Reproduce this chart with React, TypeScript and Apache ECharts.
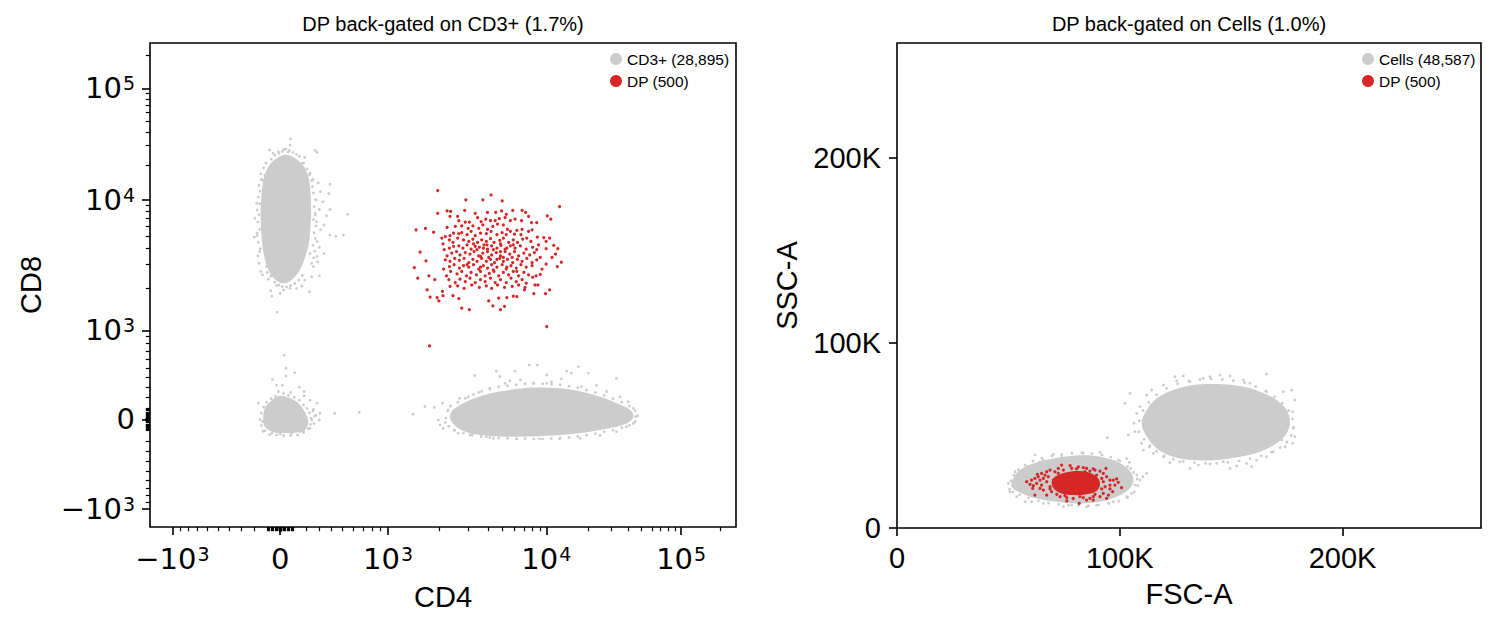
import React, { useEffect, useRef } from "react";
import * as echarts from "echarts";

const FONT = "Liberation Sans, Arial, Helvetica, sans-serif";
const MATH_FONT = "DejaVu Sans, Verdana, sans-serif";
const GRAY = "#cccccc";
const RED = "#d62728";

const leftTitle = "DP back-gated on CD3+ (1.7%)";
const rightTitle = "DP back-gated on Cells (1.0%)";
const leftParentName = "CD3+ (28,895)";
const rightParentName = "Cells (48,587)";
const dpName = "DP (500)";

// logicle axes (T=262144, W=1, M=4.5, A=0), ticks in raw units
const logicleMajorTicks = [-1000, 0, 1000, 10000, 100000];
const logicleTickBase = ["−10", "0", "10", "10", "10"];
const logicleTickExp = ["3", "", "3", "4", "5"];

// left panel events, logicle channel units (0..1000) [CD4, CD8]
const cd8PosCore = [
  [216, 762], [233, 769], [250, 760], [263, 744], [271, 720], [274, 689], [275, 655], [274, 621],
  [271, 586], [265, 559], [257, 534], [245, 514], [229, 503], [213, 512], [202, 531], [195, 559],
  [191, 593], [189, 627], [189, 662], [191, 696], [195, 724], [204, 748],
];
const cd8PosDots = [
  [240, 802], [239, 789], [228, 780], [219, 775], [204, 779], [210, 772], [236, 775], [282, 778],
  [285, 774], [264, 764], [259, 751], [196, 727], [192, 717], [262, 741], [273, 731], [278, 718],
  [287, 711], [307, 708], [291, 693], [305, 689], [283, 676], [295, 672], [307, 656], [289, 656],
  [282, 645], [301, 643], [337, 646], [182, 669], [179, 638], [183, 607], [178, 599], [284, 631],
  [291, 614], [297, 624], [307, 603], [317, 601], [330, 603], [285, 590], [289, 578], [297, 565],
  [273, 565], [285, 559], [286, 548], [189, 528], [192, 521], [202, 512], [289, 519], [272, 486],
  [259, 498], [250, 493], [239, 493], [228, 490], [222, 483], [206, 488], [208, 477], [216, 499],
  [217, 444], [199, 538], [187, 569], [279, 538], [276, 517], [264, 510],
  [186, 545], [184, 560], [188, 575], [185, 588], [183, 602], [187, 615], [184, 630], [186, 645],
  [183, 655], [187, 668], [185, 682], [188, 694], [186, 706], [190, 718], [189, 730], [194, 742],
  [198, 752], [276, 545], [279, 556], [281, 570], [278, 582], [282, 596], [280, 608], [283, 622],
  [279, 635], [282, 648], [280, 662], [283, 676], [279, 690], [277, 703], [276, 716], [272, 728],
  [268, 740], [262, 752], [207, 760], [213, 768], [220, 772], [226, 776], [232, 781], [238, 778],
  [244, 774], [250, 770], [255, 766], [213, 506], [220, 500], [226, 497], [233, 496], [240, 499],
  [247, 503], [254, 510], [260, 520], [206, 518], [200, 526],
];
const dnCore = [
  [205, 259], [222, 271], [239, 266], [253, 256], [262, 242], [268, 228], [270, 214], [264, 200],
  [250, 195], [227, 194], [208, 197], [196, 207], [193, 225], [196, 245],
];
const dnDots = [
  [229, 355], [232, 328], [209, 305], [232, 312], [247, 319], [216, 293], [226, 293], [255, 289],
  [263, 280], [263, 271], [219, 280], [240, 278], [273, 262], [285, 256], [185, 256], [279, 243],
  [290, 235], [283, 231], [315, 235], [357, 237], [276, 221], [289, 221], [280, 214], [256, 197],
  [262, 198], [193, 198], [208, 194], [222, 192], [242, 194], [192, 218], [273, 204],
  [190, 210], [188, 222], [190, 235], [194, 248], [199, 258], [207, 265], [214, 270], [228, 276],
  [236, 272], [246, 268], [255, 262], [262, 252], [268, 245], [272, 236], [275, 225], [274, 212],
  [270, 203], [262, 195], [252, 190], [240, 189], [228, 189], [216, 190], [204, 191], [196, 199],
  [281, 229], [278, 240],
];
const cd4PosCore = [
  [517, 242], [540, 259], [574, 274], [614, 283], [654, 288], [694, 287], [734, 280], [768, 269],
  [796, 256], [819, 242], [825, 228], [813, 214], [779, 203], [734, 194], [688, 189], [643, 187],
  [597, 187], [557, 191], [532, 200], [517, 214], [512, 228],
];
const cd4PosDots = [
  [449, 233], [469, 249], [485, 247], [499, 256], [509, 242], [492, 221], [495, 211], [500, 204],
  [519, 200], [528, 266], [554, 313], [591, 322], [623, 322], [597, 311], [647, 335], [661, 335],
  [632, 304], [561, 278], [606, 297], [685, 300], [711, 322], [719, 318], [731, 331], [748, 318],
  [702, 306], [736, 290], [762, 293], [796, 307], [779, 280], [802, 269], [816, 259], [825, 245],
  [829, 228], [825, 214], [813, 207], [796, 197], [768, 189], [734, 183], [699, 182], [665, 182],
  [626, 182], [586, 183], [574, 187], [546, 190], [526, 194], [677, 314], [677, 297], [654, 297],
  [614, 302], [580, 287], [543, 269],
  [505, 225], [508, 240], [513, 250], [525, 258], [538, 266], [552, 274], [566, 280], [580, 285],
  [595, 290], [610, 292], [625, 294], [640, 296], [655, 297], [670, 296], [685, 295], [700, 294],
  [715, 291], [730, 288], [745, 283], [760, 278], [775, 272], [790, 265], [805, 258], [818, 250],
  [828, 240], [832, 230], [828, 218], [818, 210], [805, 205], [790, 200], [775, 197], [760, 193],
  [745, 190], [730, 187], [715, 185], [700, 184], [685, 183], [670, 182], [655, 182], [640, 183],
  [625, 182], [610, 183], [595, 184], [580, 185], [565, 187], [550, 190], [535, 194], [520, 200],
  [510, 208], [504, 216],
];
const dpLeftDots = [
  [491, 695], [582, 686], [539, 676], [568, 676], [601, 674], [699, 662], [491, 648], [507, 653],
  [513, 652], [537, 654], [555, 648], [576, 650], [590, 650], [600, 653], [608, 646], [619, 654],
  [635, 654], [641, 650], [646, 642], [678, 643], [684, 636], [454, 614], [470, 617], [484, 609],
  [461, 568], [471, 550], [451, 536], [457, 514], [476, 519], [486, 511], [473, 490], [478, 475],
  [490, 474], [493, 467], [499, 487], [500, 478], [517, 478], [527, 472], [532, 452], [545, 449],
  [585, 457], [598, 449], [605, 456], [578, 467], [595, 473], [609, 474], [620, 477], [626, 476],
  [639, 490], [655, 482], [662, 500], [675, 482], [682, 490], [677, 414], [477, 374], [702, 547],
  [695, 538], [692, 564], [696, 575], [689, 582], [682, 597], [676, 590], [672, 598], [676, 575],
  [686, 557], [676, 543], [669, 533], [666, 522], [659, 519], [653, 516], [657, 500],
  [512, 642], [525, 642], [527, 633], [538, 630], [545, 630], [559, 639], [565, 631], [573, 636],
  [581, 633], [589, 633], [596, 637], [606, 639], [615, 633], [623, 636], [634, 633], [651, 629],
  [660, 629], [507, 619], [521, 621], [532, 622], [543, 617], [551, 622], [561, 617], [568, 624],
  [576, 615], [585, 621], [593, 626], [603, 624], [610, 615], [626, 613], [635, 615], [646, 611],
  [652, 614], [498, 597], [504, 600], [512, 602], [518, 607], [527, 606], [532, 608], [541, 604],
  [548, 611], [555, 602], [564, 607], [574, 606], [582, 611], [592, 604], [601, 608], [608, 604],
  [615, 611], [622, 605], [633, 604], [643, 597], [661, 599], [500, 585], [511, 593], [517, 588],
  [525, 597], [535, 593], [544, 590], [551, 595], [559, 588], [566, 593], [574, 590], [581, 596],
  [587, 588], [597, 592], [603, 597], [612, 588], [620, 593], [627, 588], [636, 595], [650, 590],
  [663, 583], [502, 573], [511, 576], [518, 580], [527, 581], [534, 576], [541, 583], [548, 574],
  [555, 580], [562, 578], [570, 583], [576, 574], [583, 581], [592, 576], [599, 582], [606, 574],
  [615, 581], [623, 576], [632, 581], [642, 574], [653, 578], [660, 573], [507, 560], [515, 566],
  [523, 569], [529, 562], [538, 567], [546, 564], [553, 569], [561, 560], [568, 566], [576, 569],
  [583, 562], [591, 567], [598, 560], [606, 569], [614, 564], [622, 569], [629, 560], [638, 566],
  [648, 562], [656, 567], [666, 557], [504, 552], [512, 549], [520, 555], [528, 551], [536, 555],
  [544, 546], [551, 553], [558, 549], [566, 555], [574, 549], [581, 553], [588, 546], [597, 555],
  [603, 549], [610, 553], [619, 546], [627, 553], [635, 549], [643, 555], [652, 546], [660, 552],
  [501, 533], [511, 538], [519, 542], [528, 535], [535, 540], [544, 537], [552, 542], [561, 533],
  [569, 540], [576, 535], [583, 542], [592, 537], [601, 542], [608, 533], [616, 540], [625, 535],
  [633, 542], [642, 537], [652, 540], [506, 519], [513, 528], [524, 523], [532, 528], [540, 519],
  [548, 526], [557, 521], [564, 528], [572, 519], [579, 524], [587, 528], [595, 519], [603, 526],
  [612, 521], [620, 528], [629, 519], [638, 526], [646, 521], [510, 511], [521, 505], [529, 512],
  [538, 507], [546, 514], [555, 505], [564, 511], [572, 507], [581, 514], [589, 505], [598, 511],
  [608, 505], [616, 514], [625, 507], [635, 511], [642, 504], [512, 497], [525, 498], [536, 493],
  [549, 500], [562, 495], [574, 498], [583, 493], [593, 500], [605, 495], [618, 497], [629, 500],
  [640, 495], [558, 573], [569, 576], [586, 573], [598, 569], [609, 576], [564, 559], [578, 557],
  [592, 553], [603, 557], [618, 557], [552, 585], [575, 583], [598, 585], [620, 583], [541, 542],
  [564, 537], [586, 531], [609, 537], [626, 528],
];

// right panel events, raw units [FSC-A, SSC-A]
const cellsLowCore = [
  [52200, 26800], [55200, 31300], [61200, 34900], [70200, 37600], [79100, 39100], [88100, 39100],
  [95600, 37300], [101600, 34000], [105300, 29500], [106100, 25000], [103800, 20500], [98600, 16900],
  [91100, 14200], [82100, 13300], [71700, 14200], [62700, 16000], [56000, 18700], [51500, 22300],
];
const cellsLowDots = [
  [50000, 24100], [50700, 19600], [53000, 30400], [53700, 16900], [57500, 14200], [61900, 39500],
  [70200, 39800], [73900, 39100], [91100, 40900], [94400, 48800], [103100, 37600], [104300, 35500],
  [104900, 32200], [107600, 28600], [106800, 23200], [109100, 25900], [112100, 29500], [110300, 27700],
  [105300, 18700], [103100, 16900], [97100, 14200], [89600, 12400], [85100, 11500], [78400, 12400],
  [74700, 11500], [65700, 13300], [60400, 14200], [83600, 40400], [65700, 36700], [64200, 35800],
  [58200, 33100], [102300, 21400], [105300, 25900], [97800, 35800], [99300, 36700],
  [50500, 21000], [51200, 25500], [52500, 28500], [54500, 31500], [57500, 34000], [61000, 36200],
  [65000, 37800], [69500, 39000], [74000, 39800], [78500, 40400], [83000, 40700], [87500, 40300],
  [92000, 39500], [96000, 38300], [100000, 36200], [103500, 33300], [106200, 30000], [107800, 26500],
  [108000, 23000], [106500, 19500], [103500, 16500], [99500, 14500], [95000, 13200], [90500, 12500],
  [86000, 12000], [81500, 12100], [77000, 12300], [72500, 12800], [68000, 13500], [63500, 14700],
  [59000, 16300], [55000, 18000], [52000, 19500],
];
const cellsHighCore = [
  [112100, 63800], [116600, 70100], [124000, 74600], [133000, 77300], [143500, 77800], [154000, 76700],
  [162900, 73700], [170400, 69200], [174900, 63800], [176400, 57500], [174900, 51200], [170400, 45800],
  [162900, 41200], [154000, 38500], [143500, 36700], [133000, 36700], [124000, 38500], [116600, 43000],
  [112100, 49400], [109800, 56600],
];
const cellsHighDots = [
  [102300, 67400], [104600, 72800], [103800, 50300], [106400, 56600], [106800, 52100], [107600, 62000],
  [109100, 65600], [109800, 45800], [110600, 42100], [113300, 43900], [112100, 71900], [114300, 74600],
  [119600, 77300], [124800, 81800], [128500, 82200], [125500, 79600], [131500, 79100], [137500, 80900],
  [140500, 81800], [145000, 82700], [149500, 82200], [155500, 80000], [158400, 78200], [165900, 83200],
  [165900, 73700], [173400, 73700], [177100, 74600], [178600, 69200], [177600, 62900], [177900, 53900],
  [178600, 49400], [177600, 45800], [174200, 43900], [168900, 41200], [165900, 38500], [161400, 36700],
  [156900, 34900], [152500, 33500], [146500, 35800], [140500, 34600], [135300, 34000], [131500, 32200],
  [127000, 35800], [122500, 35300], [119600, 38500], [115100, 40300], [159200, 33100], [149500, 32200],
  [130000, 40000], [172700, 47600],
  [108500, 52000], [108800, 58000], [110500, 63500], [113000, 68000], [116500, 72000], [121000, 75500],
  [126000, 78000], [131000, 79500], [136000, 80300], [141000, 80600], [146000, 80300], [151000, 79700],
  [156000, 78500], [161000, 76500], [165500, 74000], [169500, 71000], [173000, 67500], [175800, 63500],
  [177500, 59000], [178000, 54500], [177000, 50000], [175000, 46500], [172000, 43500], [168000, 41000],
  [163500, 39000], [158500, 37500], [153500, 36300], [148500, 35500], [143500, 35000], [138500, 35000],
  [133500, 35300], [128500, 36000], [124000, 37200], [120000, 39000], [116500, 41500], [113500, 44500],
  [111000, 48000],
];
const dpRightCore = [
  [70900, 27700], [76200, 30100], [82100, 30800], [87400, 29500], [90400, 26800], [91100, 23200],
  [89600, 20000], [85100, 18200], [79100, 17800], [73900, 18700], [70500, 21100], [69400, 24700],
];
const dpRightDots = [
  [58200, 25000], [60400, 25900], [61900, 26800], [63000, 29000], [64900, 29500], [65700, 26800],
  [67200, 30400], [68700, 31300], [72400, 32200], [73900, 34000], [77700, 33700], [78400, 32200],
  [81400, 33100], [83600, 32600], [85100, 32200], [88100, 31900], [91100, 30800], [92600, 29500],
  [93800, 32200], [94100, 27700], [95600, 25900], [97100, 25900], [98600, 26500], [92600, 25000],
  [93400, 22300], [95600, 23200], [100800, 21800], [96800, 19600], [94900, 17800], [92600, 18700],
  [91100, 16900], [88100, 16900], [86600, 16000], [83600, 16400], [81800, 13300], [79100, 16000],
  [76200, 16400], [73200, 16900], [71700, 18200], [69400, 19600], [67200, 17800], [65700, 20500],
  [64200, 21400], [61900, 17800], [61200, 22900], [62700, 24100], [64200, 25900], [67200, 25000],
  [67900, 27700], [68700, 22300], [70200, 25900], [70900, 30400], [74700, 31300], [80600, 31900],
  [86600, 30800], [89600, 28600], [91900, 26800], [91900, 21100], [88900, 18200], [82100, 16900],
  [75400, 17500], [68700, 21100], [64900, 23200], [66400, 28600], [72400, 29500], [84400, 30400],
  [88900, 31300], [97800, 23200], [95600, 21100], [99300, 24700], [63400, 27700], [59700, 23600],
  [60900, 21400], [76200, 14600], [85100, 15100], [88100, 15100], [94100, 16000],
];

const T = 262144;

function makeLogicle(t: number, W: number, M: number, A: number) {
  const w = W / (M + A);
  const x2 = A / (M + A);
  const x1 = x2 + w;
  const x0 = x2 + 2 * w;
  const b = (M + A) * Math.LN10;
  let lo = 1e-12;
  let hi = b;
  for (let i = 0; i < 200; i++) {
    const m = (lo + hi) / 2;
    if (w * (b + m) + 2 * (Math.log(m) - Math.log(b)) > 0) hi = m;
    else lo = m;
  }
  const d = (lo + hi) / 2;
  const ca = Math.exp(x0 * (b + d));
  const mfa = Math.exp(b * x1) - ca / Math.exp(d * x1);
  const a = t / (Math.exp(b) - mfa - ca / Math.exp(d));
  const c = ca * a;
  const f = -mfa * a;
  const inverse = (s: number) => {
    const neg = s < x1;
    const u = neg ? 2 * x1 - s : s;
    const v = a * Math.exp(b * u) + f - c * Math.exp(-d * u);
    return neg ? -v : v;
  };
  return (v: number) => {
    let l = -1;
    let h = 2;
    for (let i = 0; i < 80; i++) {
      const m = (l + h) / 2;
      if (inverse(m) < v) l = m;
      else h = m;
    }
    return (l + h) / 2;
  };
}

const logicle = makeLogicle(T, 1, 4.5, 0);
const toChannel = (v: number) => logicle(v) * 1000;
const majorCh = logicleMajorTicks.map(toChannel);
const minorCh: number[] = [];
for (let n = 0; n <= 5; n++) {
  for (let k = 1; k <= 9; k++) {
    const v = k * Math.pow(10, n);
    if (logicleMajorTicks.includes(v)) continue;
    for (const s of [v, -v]) {
      const ch = toChannel(s);
      if (ch >= 0 && ch <= 1000) minorCh.push(ch);
    }
  }
}

const rich = {
  b: { fontSize: 29, lineHeight: 29, fontFamily: MATH_FONT, color: "#000", verticalAlign: "bottom" },
  s: { fontSize: 19, lineHeight: 16, fontFamily: MATH_FONT, color: "#000", verticalAlign: "top", padding: [0, 0, 0, 1] },
};

const logicleLabel = (val: number) => {
  const i = majorCh.findIndex((c) => Math.abs(c - val) < 0.01);
  if (i < 0) return "";
  const e = logicleTickExp[i];
  return e ? `{b|${logicleTickBase[i]}}{s|${e}}` : `{b|${logicleTickBase[i]}}`;
};
const kLabel = (v: number) => (v === 0 ? "0" : `${v / 1000}K`);

const nameStyle = { fontSize: 29, color: "#000", fontFamily: FONT };
const majorTick = { length: 8, lineStyle: { color: "#000", width: 1.6 } };
const minorTick = { length: 4.2, lineStyle: { color: "#000", width: 1.2 } };

const blob = (name: string, pts: number[][], color: string, ai: number) => ({
  type: "custom",
  name,
  xAxisIndex: ai,
  yAxisIndex: ai,
  silent: true,
  data: pts,
  renderItem: (params: any, api: any) => {
    if (params.dataIndex !== 0) return null;
    return {
      type: "polygon",
      shape: { points: pts.map((p) => api.coord(p)), smooth: 0.35 },
      style: { fill: color },
    };
  },
});

const dots = (name: string, pts: number[][], color: string, size: number, ai: number) => ({
  type: "scatter",
  name,
  xAxisIndex: ai,
  yAxisIndex: ai,
  data: pts,
  symbol: "circle",
  symbolSize: size,
  silent: true,
  itemStyle: { color, opacity: 1 },
});

const legendBase = {
  orient: "vertical",
  top: 51,
  padding: 0,
  itemGap: 6,
  itemWidth: 12,
  itemHeight: 12,
  icon: "circle",
  selectedMode: false,
  textStyle: { fontSize: 15.5, lineHeight: 16, color: "#000", fontFamily: FONT },
};

const gridBase = {
  show: true,
  borderColor: "#000",
  borderWidth: 1.6,
  backgroundColor: "transparent",
  containLabel: false,
  outerBoundsMode: "none",
};

const App: React.FC = () => {
  const chartRef = useRef<HTMLDivElement>(null);

  useEffect(() => {
    if (!chartRef.current) return;
    const chart = echarts.init(chartRef.current, undefined, { renderer: "svg" });

    const option = {
      animation: false,
      textStyle: { fontFamily: FONT },
      grid: [
        { ...gridBase, left: 150, top: 43, width: 586, height: 484 },
        { ...gridBase, left: 897, top: 43, width: 584, height: 485 },
      ],
      graphic: [
        { type: "text", x: 443, y: 24, style: { text: leftTitle, fontSize: 20, fontFamily: FONT, fill: "#000", align: "center", verticalAlign: "middle" } },
        { type: "text", x: 1189, y: 24, style: { text: rightTitle, fontSize: 20, fontFamily: FONT, fill: "#000", align: "center", verticalAlign: "middle" } },
      ],
      legend: [
        { ...legendBase, left: 610, data: [{ name: leftParentName, itemStyle: { color: GRAY } }, { name: dpName, itemStyle: { color: RED } }] },
        { ...legendBase, left: 1362, data: [{ name: rightParentName, itemStyle: { color: GRAY } }, { name: dpName, itemStyle: { color: RED } }] },
      ],
      xAxis: [
        {
          gridIndex: 0, type: "value", min: 0, max: 1000, position: "bottom",
          name: "CD4", nameLocation: "middle", nameGap: 55, nameMoveOverlap: false, nameTextStyle: nameStyle,
          axisLine: { show: false }, splitLine: { show: false },
          axisTick: { ...majorTick, customValues: majorCh },
          axisLabel: { customValues: majorCh, formatter: logicleLabel, rich, margin: 17 },
        },
        {
          gridIndex: 0, type: "value", min: 0, max: 1000, position: "bottom",
          axisLine: { show: false }, splitLine: { show: false }, axisLabel: { show: false },
          axisTick: { ...minorTick, customValues: minorCh },
        },
        {
          gridIndex: 1, type: "value", min: 0, max: T, interval: 100000, position: "bottom",
          name: "FSC-A", nameLocation: "middle", nameGap: 51, nameMoveOverlap: false, nameTextStyle: nameStyle,
          axisLine: { show: false }, splitLine: { show: false }, axisTick: majorTick,
          axisLabel: { formatter: kLabel, showMaxLabel: false, fontSize: 29, color: "#000", fontFamily: FONT, margin: 15 },
        },
      ],
      yAxis: [
        {
          gridIndex: 0, type: "value", min: 0, max: 1000, position: "left",
          name: "CD8", nameLocation: "middle", nameGap: 105, nameMoveOverlap: false, nameTextStyle: nameStyle,
          axisLine: { show: false }, splitLine: { show: false },
          axisTick: { ...majorTick, customValues: majorCh },
          axisLabel: { customValues: majorCh, formatter: logicleLabel, rich, margin: 15 },
        },
        {
          gridIndex: 0, type: "value", min: 0, max: 1000, position: "left",
          axisLine: { show: false }, splitLine: { show: false }, axisLabel: { show: false },
          axisTick: { ...minorTick, customValues: minorCh },
        },
        {
          gridIndex: 1, type: "value", min: 0, max: T, interval: 100000, position: "left",
          name: "SSC-A", nameLocation: "middle", nameGap: 96, nameMoveOverlap: false, nameTextStyle: nameStyle,
          axisLine: { show: false }, splitLine: { show: false }, axisTick: majorTick,
          axisLabel: { formatter: kLabel, showMaxLabel: false, fontSize: 29, color: "#000", fontFamily: FONT, margin: 16 },
        },
      ],
      series: [
        blob(leftParentName, cd8PosCore, GRAY, 0),
        blob(leftParentName, dnCore, GRAY, 0),
        blob(leftParentName, cd4PosCore, GRAY, 0),
        dots(leftParentName, cd8PosDots, GRAY, 2.8, 0),
        dots(leftParentName, dnDots, GRAY, 2.8, 0),
        dots(leftParentName, cd4PosDots, GRAY, 2.8, 0),
        dots(dpName, dpLeftDots, RED, 3.2, 0),
        { ...blob(rightParentName, cellsLowCore, GRAY, 2), yAxisIndex: 2 },
        { ...blob(rightParentName, cellsHighCore, GRAY, 2), yAxisIndex: 2 },
        dots(rightParentName, cellsLowDots, GRAY, 2.8, 2),
        dots(rightParentName, cellsHighDots, GRAY, 2.8, 2),
        blob(dpName, dpRightCore, RED, 2),
        dots(dpName, dpRightDots, RED, 3.2, 2),
      ],
    };

    chart.setOption(option as any);
    return () => {
      chart.dispose();
    };
  }, []);

  return (
    <div
      ref={chartRef}
      style={{ position: "fixed", left: 0, top: 0, width: 1498, height: 631, background: "#fff" }}
    />
  );
};

export default App;
